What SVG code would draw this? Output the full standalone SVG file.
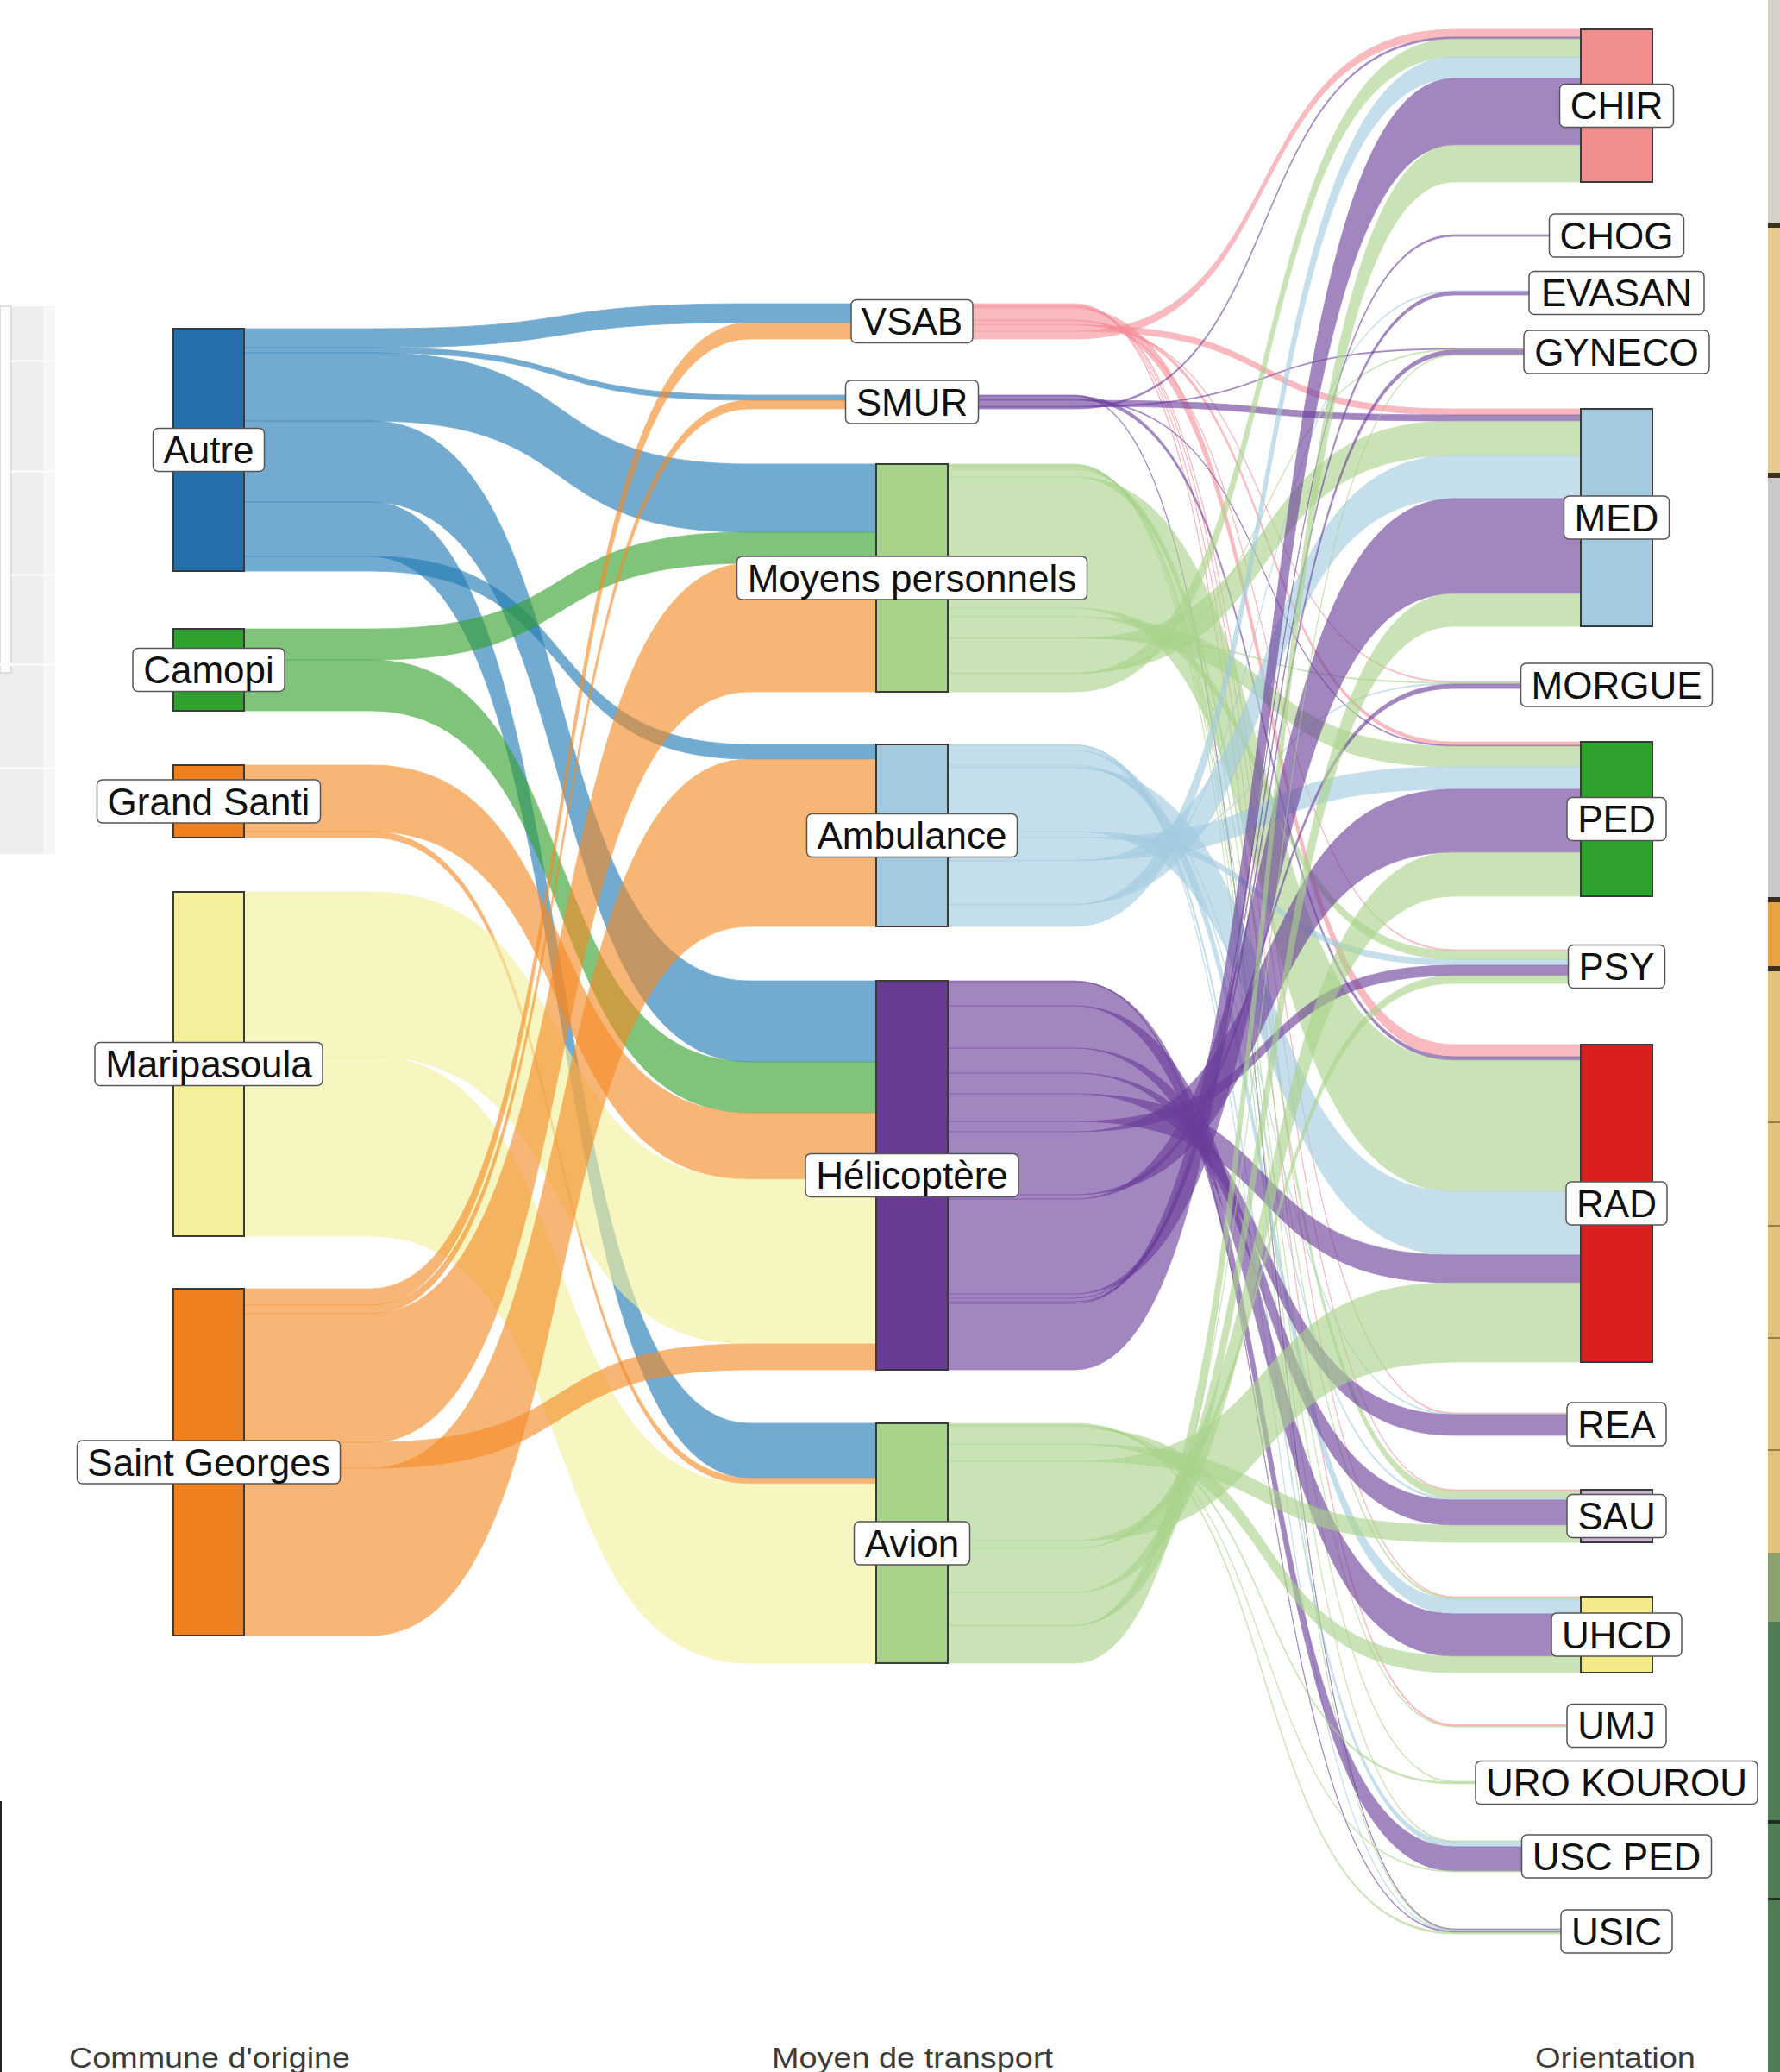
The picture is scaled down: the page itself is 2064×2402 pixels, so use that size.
<svg xmlns="http://www.w3.org/2000/svg" width="2064" height="2402" viewBox="0 0 2064 2402">
<style>
.n{stroke:#3a3a3a;stroke-width:2}
.lb{fill:#fff;stroke:#555;stroke-width:1.5}
.lt{font-family:"Liberation Sans",Arial,sans-serif;font-size:44px;fill:#111;text-anchor:middle}
.ax{font-family:"Liberation Sans",Arial,sans-serif;font-size:33px;fill:#3c3c3c}
.f{opacity:0.62;stroke-width:0.8}
.fa{fill:#1f78b4;stroke:#1f78b4}
.fc{fill:#33a02c;stroke:#33a02c}
.fo{fill:#f58a24;stroke:#f58a24}
.fy{fill:#f3ef9b;stroke:#f3ef9b}
.fp{fill:#f58f98;stroke:#f58f98}
.fs{fill:#6a3d9a;stroke:#6a3d9a}
.fg{fill:#a9d38b;stroke:#a9d38b}
.fb{fill:#a3cbe0;stroke:#a3cbe0}
.fh{fill:#6a3d9a;stroke:#6a3d9a}
</style>
<rect width="2064" height="2402" fill="#fff"/>
<g id="edges-background">
<rect x="0" y="355" width="50" height="635" fill="#eeeeee"/>
<rect x="50" y="355" width="14" height="635" fill="#f6f6f6"/>
<rect x="0" y="355" width="13" height="425" fill="#fff" stroke="#d6d6d6" stroke-width="1.5"/>
<rect x="13" y="417" width="51" height="3" fill="#fbfbfb"/>
<rect x="13" y="545" width="51" height="3" fill="#fbfbfb"/>
<rect x="13" y="665" width="51" height="3" fill="#fbfbfb"/>
<rect x="0" y="769" width="64" height="3" fill="#fbfbfb"/>
<rect x="0" y="889" width="64" height="3" fill="#fbfbfb"/>
<rect x="0" y="2088" width="2" height="314" fill="#222"/>
<rect x="2050" y="0" width="14" height="260" fill="#d5d0c8"/>
<rect x="2050" y="258" width="14" height="6" fill="#3a3020"/>
<rect x="2050" y="264" width="14" height="286" fill="#e6c98e"/>
<rect x="2050" y="548" width="14" height="6" fill="#3a3020"/>
<rect x="2050" y="554" width="14" height="488" fill="#c9c9c9"/>
<rect x="2050" y="1040" width="14" height="6" fill="#3a3020"/>
<rect x="2050" y="1046" width="14" height="76" fill="#e8a443"/>
<rect x="2050" y="1120" width="14" height="6" fill="#3a3020"/>
<rect x="2050" y="1126" width="14" height="676" fill="#e3c27f"/>
<rect x="2050" y="1300" width="14" height="2" fill="#9a7d4a"/>
<rect x="2050" y="1420" width="14" height="2" fill="#9a7d4a"/>
<rect x="2050" y="1550" width="14" height="2" fill="#9a7d4a"/>
<rect x="2050" y="1680" width="14" height="2" fill="#9a7d4a"/>
<rect x="2050" y="1800" width="14" height="80" fill="#8aa36a"/>
<rect x="2050" y="1880" width="14" height="522" fill="#4f7d55"/>
<rect x="2050" y="2110" width="14" height="4" fill="#1f2f22"/>
<rect x="2050" y="2200" width="14" height="3" fill="#1f2f22"/>
</g>
<g id="connectors">
<path class="f fa" d="M283,381H430C686,381 613,352 869,352H1016V374H869C613,374 686,403 430,403H283Z"/>
<path class="f fa" d="M283,403H430C686,403 613,458 869,458H1016V464H869C613,464 686,409 430,409H283Z"/>
<path class="f fa" d="M283,409H430C686,409 613,538 869,538H1016V617H869C613,617 686,488 430,488H283Z"/>
<path class="f fa" d="M283,488H430C686,488 613,1137 869,1137H1016V1231H869C613,1231 686,582 430,582H283Z"/>
<path class="f fa" d="M283,582H430C686,582 613,1650 869,1650H1016V1713H869C613,1713 686,645 430,645H283Z"/>
<path class="f fa" d="M283,645H430C686,645 613,863 869,863H1016V880H869C613,880 686,662 430,662H283Z"/>
<path class="f fc" d="M283,729H430C686,729 613,617 869,617H1016V653H869C613,653 686,765 430,765H283Z"/>
<path class="f fc" d="M283,765H430C686,765 613,1231 869,1231H1016V1290H869C613,1290 686,824 430,824H283Z"/>
<path class="f fo" d="M283,887H430C686,887 613,1290 869,1290H1016V1367H869C613,1367 686,964 430,964H283Z"/>
<path class="f fo" d="M283,964H430C686,964 613,1713 869,1713H1016V1720H869C613,1720 686,971 430,971H283Z"/>
<path class="f fy" d="M283,1034H430C686,1034 613,1367 869,1367H1016V1558H869C613,1558 686,1225 430,1225H283Z"/>
<path class="f fy" d="M283,1225H430C686,1225 613,1720 869,1720H1016V1928H869C613,1928 686,1433 430,1433H283Z"/>
<path class="f fo" d="M283,1494H430C686,1494 613,374 869,374H1016V393H869C613,393 686,1513 430,1513H283Z"/>
<path class="f fo" d="M283,1513H430C686,1513 613,464 869,464H1016V474H869C613,474 686,1523 430,1523H283Z"/>
<path class="f fo" d="M283,1523H430C686,1523 613,653 869,653H1016V802H869C613,802 686,1672 430,1672H283Z"/>
<path class="f fo" d="M283,1672H430C686,1672 613,1558 869,1558H1016V1588H869C613,1588 686,1702 430,1702H283Z"/>
<path class="f fo" d="M283,1702H430C686,1702 613,880 869,880H1016V1074H869C613,1074 686,1896 430,1896H283Z"/>

<path class="f fp" d="M1099,352H1246C1503,352 1429,1999 1686,1999H1833V2001H1686C1429,2001 1503,354 1246,354H1099Z"/>
<path class="f fp" d="M1099,354H1246C1503,354 1429,1851 1686,1851H1833V1852H1686C1429,1852 1503,355 1246,355H1099Z"/>
<path class="f fp" d="M1099,355H1246C1503,355 1429,1727 1686,1727H1833V1728H1686C1429,1728 1503,356 1246,356H1099Z"/>
<path class="f fp" d="M1099,356H1246C1503,356 1429,1638 1686,1638H1833V1639H1686C1429,1639 1503,357 1246,357H1099Z"/>
<path class="f fp" d="M1099,357H1246C1503,357 1429,1211 1686,1211H1833V1225H1686C1429,1225 1503,371 1246,371H1099Z"/>
<path class="f fp" d="M1099,371H1246C1503,371 1429,1101 1686,1101H1833V1102H1686C1429,1102 1503,372 1246,372H1099Z"/>
<path class="f fp" d="M1099,372H1246C1503,372 1429,860 1686,860H1833V864H1686C1429,864 1503,376 1246,376H1099Z"/>
<path class="f fp" d="M1099,376H1246C1503,376 1429,790 1686,790H1833V791H1686C1429,791 1503,377 1246,377H1099Z"/>
<path class="f fp" d="M1099,377H1246C1503,377 1429,474 1686,474H1833V481H1686C1429,481 1503,384 1246,384H1099Z"/>
<path class="f fp" d="M1099,384H1246C1503,384 1429,34 1686,34H1833V43H1686C1429,43 1503,393 1246,393H1099Z"/>

<path class="f fs" d="M1099,458H1246C1503,458 1429,2236 1686,2236H1833V2237H1686C1429,2237 1503,459 1246,459H1099Z"/>
<path class="f fs" d="M1099,459H1246C1503,459 1429,1225 1686,1225H1833V1229H1686C1429,1229 1503,463 1246,463H1099Z"/>
<path class="f fs" d="M1099,463H1246C1503,463 1429,864 1686,864H1833V865H1686C1429,865 1503,464 1246,464H1099Z"/>
<path class="f fs" d="M1099,464H1246C1503,464 1429,481 1686,481H1833V488H1686C1429,488 1503,471 1246,471H1099Z"/>
<path class="f fs" d="M1099,471H1246C1503,471 1429,404 1686,404H1833V405H1686C1429,405 1503,472 1246,472H1099Z"/>
<path class="f fs" d="M1099,472H1246C1503,472 1429,43 1686,43H1833V45H1686C1429,45 1503,474 1246,474H1099Z"/>

<path class="f fg" d="M1099,538H1246C1503,538 1429,2237 1686,2237H1833V2238H1686C1429,2238 1503,539 1246,539H1099Z"/>
<path class="f fg" d="M1099,539H1246C1503,539 1429,2134 1686,2134H1833V2135H1686C1429,2135 1503,540 1246,540H1099Z"/>
<path class="f fg" d="M1099,540H1246C1503,540 1429,2065 1686,2065H1833V2066H1686C1429,2066 1503,541 1246,541H1099Z"/>
<path class="f fg" d="M1099,541H1246C1503,541 1429,2001 1686,2001H1833V2002H1686C1429,2002 1503,542 1246,542H1099Z"/>
<path class="f fg" d="M1099,542H1246C1503,542 1429,1852 1686,1852H1833V1854H1686C1429,1854 1503,544 1246,544H1099Z"/>
<path class="f fg" d="M1099,544H1246C1503,544 1429,1728 1686,1728H1833V1737H1686C1429,1737 1503,553 1246,553H1099Z"/>
<path class="f fg" d="M1099,553H1246C1503,553 1429,1229 1686,1229H1833V1381H1686C1429,1381 1503,705 1246,705H1099Z"/>
<path class="f fg" d="M1099,705H1246C1503,705 1429,1102 1686,1102H1833V1112H1686C1429,1112 1503,715 1246,715H1099Z"/>
<path class="f fg" d="M1099,715H1246C1503,715 1429,865 1686,865H1833V889H1686C1429,889 1503,739 1246,739H1099Z"/>
<path class="f fg" d="M1099,739H1246C1503,739 1429,791 1686,791H1833V792H1686C1429,792 1503,740 1246,740H1099Z"/>
<path class="f fg" d="M1099,740H1246C1503,740 1429,488 1686,488H1833V528H1686C1429,528 1503,780 1246,780H1099Z"/>
<path class="f fg" d="M1099,780H1246C1503,780 1429,405 1686,405H1833V406H1686C1429,406 1503,781 1246,781H1099Z"/>
<path class="f fg" d="M1099,781H1246C1503,781 1429,45 1686,45H1833V66H1686C1429,66 1503,802 1246,802H1099Z"/>

<path class="f fb" d="M1099,863H1246C1503,863 1429,2238 1686,2238H1833V2239H1686C1429,2239 1503,864 1246,864H1099Z"/>
<path class="f fb" d="M1099,864H1246C1503,864 1429,2135 1686,2135H1833V2141H1686C1429,2141 1503,870 1246,870H1099Z"/>
<path class="f fb" d="M1099,870H1246C1503,870 1429,1854 1686,1854H1833V1871H1686C1429,1871 1503,887 1246,887H1099Z"/>
<path class="f fb" d="M1099,887H1246C1503,887 1429,1737 1686,1737H1833V1739H1686C1429,1739 1503,889 1246,889H1099Z"/>
<path class="f fb" d="M1099,889H1246C1503,889 1429,1639 1686,1639H1833V1640H1686C1429,1640 1503,890 1246,890H1099Z"/>
<path class="f fb" d="M1099,890H1246C1503,890 1429,1381 1686,1381H1833V1455H1686C1429,1455 1503,964 1246,964H1099Z"/>
<path class="f fb" d="M1099,964H1246C1503,964 1429,1112 1686,1112H1833V1119H1686C1429,1119 1503,971 1246,971H1099Z"/>
<path class="f fb" d="M1099,971H1246C1503,971 1429,889 1686,889H1833V915H1686C1429,915 1503,997 1246,997H1099Z"/>
<path class="f fb" d="M1099,997H1246C1503,997 1429,792 1686,792H1833V793H1686C1429,793 1503,998 1246,998H1099Z"/>
<path class="f fb" d="M1099,998H1246C1503,998 1429,528 1686,528H1833V578H1686C1429,578 1503,1048 1246,1048H1099Z"/>
<path class="f fb" d="M1099,1048H1246C1503,1048 1429,337 1686,337H1833V338H1686C1429,338 1503,1049 1246,1049H1099Z"/>
<path class="f fb" d="M1099,1049H1246C1503,1049 1429,66 1686,66H1833V91H1686C1429,91 1503,1074 1246,1074H1099Z"/>

<path class="f fh" d="M1099,1137H1246C1503,1137 1429,2239 1686,2239H1833V2240H1686C1429,2240 1503,1138 1246,1138H1099Z"/>
<path class="f fh" d="M1099,1138H1246C1503,1138 1429,2141 1686,2141H1833V2169H1686C1429,2169 1503,1166 1246,1166H1099Z"/>
<path class="f fh" d="M1099,1166H1246C1503,1166 1429,1871 1686,1871H1833V1920H1686C1429,1920 1503,1215 1246,1215H1099Z"/>
<path class="f fh" d="M1099,1215H1246C1503,1215 1429,1739 1686,1739H1833V1768H1686C1429,1768 1503,1244 1246,1244H1099Z"/>
<path class="f fh" d="M1099,1244H1246C1503,1244 1429,1640 1686,1640H1833V1664H1686C1429,1664 1503,1268 1246,1268H1099Z"/>
<path class="f fh" d="M1099,1268H1246C1503,1268 1429,1455 1686,1455H1833V1487H1686C1429,1487 1503,1300 1246,1300H1099Z"/>
<path class="f fh" d="M1099,1300H1246C1503,1300 1429,1119 1686,1119H1833V1131H1686C1429,1131 1503,1312 1246,1312H1099Z"/>
<path class="f fh" d="M1099,1312H1246C1503,1312 1429,915 1686,915H1833V988H1686C1429,988 1503,1385 1246,1385H1099Z"/>
<path class="f fh" d="M1099,1385H1246C1503,1385 1429,793 1686,793H1833V798H1686C1429,798 1503,1390 1246,1390H1099Z"/>
<path class="f fh" d="M1099,1390H1246C1503,1390 1429,578 1686,578H1833V688H1686C1429,688 1503,1500 1246,1500H1099Z"/>
<path class="f fh" d="M1099,1500H1246C1503,1500 1429,406 1686,406H1833V411H1686C1429,411 1503,1505 1246,1505H1099Z"/>
<path class="f fh" d="M1099,1505H1246C1503,1505 1429,338 1686,338H1833V342H1686C1429,342 1503,1509 1246,1509H1099Z"/>
<path class="f fh" d="M1099,1509H1246C1503,1509 1429,272 1686,272H1833V274H1686C1429,274 1503,1511 1246,1511H1099Z"/>
<path class="f fh" d="M1099,1511H1246C1503,1511 1429,91 1686,91H1833V168H1686C1429,168 1503,1588 1246,1588H1099Z"/>

<path class="f fg" d="M1099,1650H1246C1503,1650 1429,2240 1686,2240H1833V2242H1686C1429,2242 1503,1652 1246,1652H1099Z"/>
<path class="f fg" d="M1099,1652H1246C1503,1652 1429,2169 1686,2169H1833V2170H1686C1429,2170 1503,1653 1246,1653H1099Z"/>
<path class="f fg" d="M1099,1653H1246C1503,1653 1429,2066 1686,2066H1833V2068H1686C1429,2068 1503,1655 1246,1655H1099Z"/>
<path class="f fg" d="M1099,1655H1246C1503,1655 1429,1920 1686,1920H1833V1939H1686C1429,1939 1503,1674 1246,1674H1099Z"/>
<path class="f fg" d="M1099,1674H1246C1503,1674 1429,1768 1686,1768H1833V1788H1686C1429,1788 1503,1694 1246,1694H1099Z"/>
<path class="f fg" d="M1099,1694H1246C1503,1694 1429,1487 1686,1487H1833V1579H1686C1429,1579 1503,1786 1246,1786H1099Z"/>
<path class="f fg" d="M1099,1786H1246C1503,1786 1429,1131 1686,1131H1833V1140H1686C1429,1140 1503,1795 1246,1795H1099Z"/>
<path class="f fg" d="M1099,1795H1246C1503,1795 1429,988 1686,988H1833V1039H1686C1429,1039 1503,1846 1246,1846H1099Z"/>
<path class="f fg" d="M1099,1846H1246C1503,1846 1429,688 1686,688H1833V726H1686C1429,726 1503,1884 1246,1884H1099Z"/>
<path class="f fg" d="M1099,1884H1246C1503,1884 1429,411 1686,411H1833V412H1686C1429,412 1503,1885 1246,1885H1099Z"/>
<path class="f fg" d="M1099,1885H1246C1503,1885 1429,168 1686,168H1833V211H1686C1429,211 1503,1928 1246,1928H1099Z"/>
</g>

<g id="node-autre"><rect class="n" x="201" y="381" width="82" height="281" fill="#2370ad"/><rect class="lb" x="177.5" y="496.5" width="129" height="50" rx="6"/><text class="lt" x="242" y="537">Autre</text></g>
<g id="node-camopi"><rect class="n" x="201" y="729" width="82" height="95" fill="#30a02e"/><rect class="lb" x="154" y="751.5" width="176" height="50" rx="6"/><text class="lt" x="242" y="792">Camopi</text></g>
<g id="node-grand-santi"><rect class="n" x="201" y="887" width="82" height="84" fill="#ef7f1f"/><rect class="lb" x="112.5" y="904" width="259" height="50" rx="6"/><text class="lt" x="242" y="944.5">Grand Santi</text></g>
<g id="node-maripasoula"><rect class="n" x="201" y="1034" width="82" height="399" fill="#f3ef9b"/><rect class="lb" x="110" y="1208.5" width="264" height="50" rx="6"/><text class="lt" x="242" y="1249">Maripasoula</text></g>
<g id="node-saint-georges"><rect class="n" x="201" y="1494" width="82" height="402" fill="#ef7f1f"/><rect class="lb" x="89.5" y="1670" width="305" height="50" rx="6"/><text class="lt" x="242" y="1710.5">Saint Georges</text></g>

<g id="node-vsab"><rect class="n" x="1016" y="352" width="83" height="41" fill="#f49d9c"/><rect class="lb" x="987" y="347.5" width="141" height="50" rx="6"/><text class="lt" x="1057.5" y="388">VSAB</text></g>
<g id="node-smur"><rect class="n" x="1016" y="458" width="83" height="16" fill="#6a3d9a"/><rect class="lb" x="980.5" y="441" width="154" height="50" rx="6"/><text class="lt" x="1057.5" y="481.5">SMUR</text></g>
<g id="node-moyens"><rect class="n" x="1016" y="538" width="83" height="264" fill="#a9d38b"/><rect class="lb" x="854.5" y="645" width="406" height="50" rx="6"/><text class="lt" x="1057.5" y="685.5">Moyens personnels</text></g>
<g id="node-ambulance"><rect class="n" x="1016" y="863" width="83" height="211" fill="#a3cbe0"/><rect class="lb" x="935.5" y="943.5" width="244" height="50" rx="6"/><text class="lt" x="1057.5" y="984">Ambulance</text></g>
<g id="node-helicoptere"><rect class="n" x="1016" y="1137" width="83" height="451" fill="#673a93"/><rect class="lb" x="934" y="1337.5" width="247" height="50" rx="6"/><text class="lt" x="1057.5" y="1378">Hélicoptère</text></g>
<g id="node-avion"><rect class="n" x="1016" y="1650" width="83" height="278" fill="#a9d38b"/><rect class="lb" x="990.5" y="1764" width="134" height="50" rx="6"/><text class="lt" x="1057.5" y="1804.5">Avion</text></g>

<g id="node-chir"><rect class="n" x="1833" y="34" width="83" height="177" fill="#f08e8e"/><rect class="lb" x="1808.5" y="97.5" width="132" height="50" rx="6"/><text class="lt" x="1874.5" y="138">CHIR</text></g>
<g id="node-chog"><rect class="n" x="1833" y="272" width="83" height="2" fill="#e31a1c"/><rect class="lb" x="1796.5" y="248" width="156" height="50" rx="6"/><text class="lt" x="1874.5" y="288.5">CHOG</text></g>
<g id="node-evasan"><rect class="n" x="1833" y="337" width="83" height="5" fill="#fdbf6f"/><rect class="lb" x="1773" y="314.5" width="203" height="50" rx="6"/><text class="lt" x="1874.5" y="355">EVASAN</text></g>
<g id="node-gyneco"><rect class="n" x="1833" y="404" width="83" height="8" fill="#ff7f00"/><rect class="lb" x="1767" y="383" width="215" height="50" rx="6"/><text class="lt" x="1874.5" y="423.5">GYNECO</text></g>
<g id="node-med"><rect class="n" x="1833" y="474" width="83" height="252" fill="#a3cbe0"/><rect class="lb" x="1813.5" y="575" width="122" height="50" rx="6"/><text class="lt" x="1874.5" y="615.5">MED</text></g>
<g id="node-morgue"><rect class="n" x="1833" y="790" width="83" height="8" fill="#cab2d6"/><rect class="lb" x="1763.5" y="769" width="222" height="50" rx="6"/><text class="lt" x="1874.5" y="809.5">MORGUE</text></g>
<g id="node-ped"><rect class="n" x="1833" y="860" width="83" height="179" fill="#30a02e"/><rect class="lb" x="1817" y="924.5" width="115" height="50" rx="6"/><text class="lt" x="1874.5" y="965">PED</text></g>
<g id="node-psy"><rect class="n" x="1833" y="1101" width="83" height="39" fill="#fb9a99"/><rect class="lb" x="1818.5" y="1095.5" width="112" height="50" rx="6"/><text class="lt" x="1874.5" y="1136">PSY</text></g>
<g id="node-rad"><rect class="n" x="1833" y="1211" width="83" height="368" fill="#d9201e"/><rect class="lb" x="1816" y="1370" width="117" height="50" rx="6"/><text class="lt" x="1874.5" y="1410.5">RAD</text></g>
<g id="node-rea"><rect class="n" x="1833" y="1638" width="83" height="26" fill="#fdbf6f"/><rect class="lb" x="1817" y="1626" width="115" height="50" rx="6"/><text class="lt" x="1874.5" y="1666.5">REA</text></g>
<g id="node-sau"><rect class="n" x="1833" y="1727" width="83" height="61" fill="#cab2d6" stroke="#6a5a7a"/><rect class="lb" x="1817" y="1732.5" width="115" height="50" rx="6"/><text class="lt" x="1874.5" y="1773">SAU</text></g>
<g id="node-uhcd"><rect class="n" x="1833" y="1851" width="83" height="88" fill="#f3ea8c"/><rect class="lb" x="1799" y="1870" width="151" height="50" rx="6"/><text class="lt" x="1874.5" y="1910.5">UHCD</text></g>
<g id="node-umj"><rect class="n" x="1833" y="1999" width="83" height="3" fill="#b15928"/><rect class="lb" x="1817" y="1975.5" width="115" height="50" rx="6"/><text class="lt" x="1874.5" y="2016">UMJ</text></g>
<g id="node-uro-kourou"><rect class="n" x="1833" y="2065" width="83" height="3" fill="#a6cee3"/><rect class="lb" x="1711" y="2041.5" width="327" height="50" rx="6"/><text class="lt" x="1874.5" y="2082">URO KOUROU</text></g>
<g id="node-usc-ped"><rect class="n" x="1833" y="2134" width="83" height="36" fill="#1f78b4"/><rect class="lb" x="1764.5" y="2127" width="220" height="50" rx="6"/><text class="lt" x="1874.5" y="2167.5">USC PED</text></g>
<g id="node-usic"><rect class="n" x="1833" y="2236" width="83" height="6" fill="#b2df8a"/><rect class="lb" x="1810" y="2214" width="129" height="50" rx="6"/><text class="lt" x="1874.5" y="2254.5">USIC</text></g>

<g id="axis-labels">
<text class="ax" x="80" y="2397" textLength="326" lengthAdjust="spacingAndGlyphs">Commune d'origine</text>
<text class="ax" x="895" y="2397" textLength="326" lengthAdjust="spacingAndGlyphs">Moyen de transport</text>
<text class="ax" x="1780" y="2397" textLength="186" lengthAdjust="spacingAndGlyphs">Orientation</text>
</g>
</svg>
